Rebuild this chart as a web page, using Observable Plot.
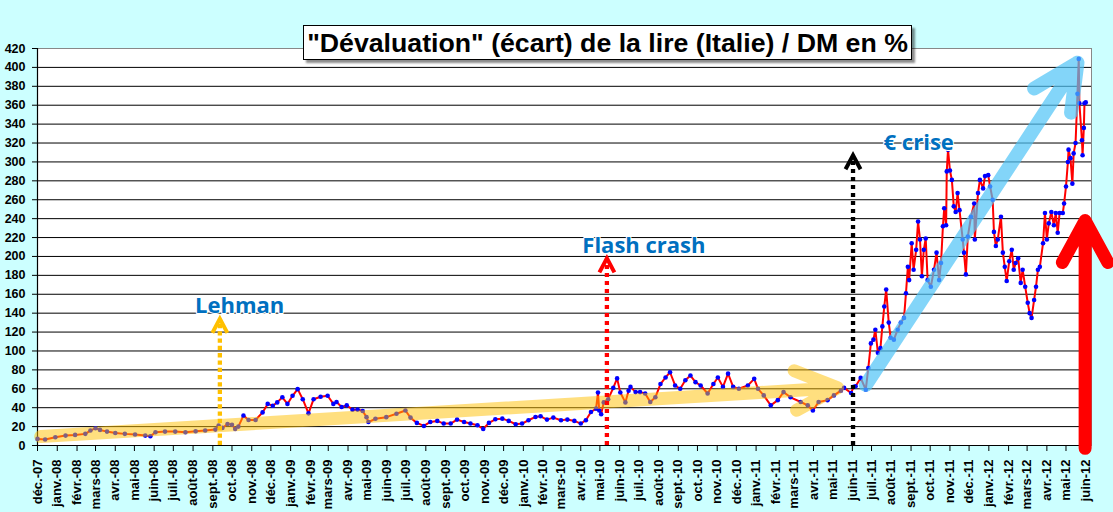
<!DOCTYPE html>
<html>
<head>
<meta charset="utf-8">
<script src="https://cdn.jsdelivr.net/npm/d3@7"></script>
<script src="https://cdn.jsdelivr.net/npm/@observablehq/plot@0.6"></script>
<style>
html, body { margin: 0; padding: 0; background: #ccffff; }
#wrap { position: relative; width: 1113px; height: 512px; overflow: hidden; background: #ccffff; }
#title {
  position: absolute; left: 303px; top: 25px; width: 607px; height: 33px;
  background: #fff; border: 1px solid #000;
  box-shadow: 3px 3px 2px rgba(0,0,0,0.45);
  font: bold 26.7px "Liberation Sans", Arial, sans-serif; line-height: 34px;
  text-align: center; white-space: nowrap; color: #000; z-index: 2;
}
#chart { position: absolute; left: 0; top: 0; }
</style>
</head>
<body>
<div id="wrap">
  <div id="chart"></div>
  <div id="title">"Dévaluation" (écart) de la lire (Italie) / DM en %</div>
</div>
<script>
// ---- Data, per year: day "MM-DD" and value in % ----
const days2007 = ["12-01","12-13","12-29"];
const vals2007 = [7,6.3,8.8];

const days2008 = ["01-14","01-29","02-14","02-22","03-01","03-08","03-19","04-01","04-16","05-02",
                  "05-18","05-26","06-03","06-18","07-04","07-20","08-05","08-20","09-05","09-10",
                  "09-16","09-24","10-01","10-06","10-11","10-19","10-27","11-07","11-18","11-26",
                  "12-04","12-11","12-19","12-27"];
const vals2008 = [10.5,11.2,12.3,15.8,18.3,16.5,14.7,13.3,12.3,11.6,
                  10.5,9.8,14,14.7,14.7,14,15,15.8,16.8,21,
                  18.6,22.8,22,17.5,20,31.6,27,27,35,44,
                  42,45.6,51,44];

const days2009 = ["01-04","01-12","01-20","01-29","02-06","02-17","02-28","03-09","03-14","03-22",
                  "03-30","04-08","04-16","04-24","04-30","05-03","05-14","05-31","06-16","06-30",
                  "07-08","07-18","07-29","08-08","08-19","08-29","09-09","09-19","09-30","10-10",
                  "10-21","10-30","11-08","11-18","11-29","12-09","12-20","12-30"];
const vals2009 = [52.6,59.6,49,34,49,51.6,52.6,44,46,40.7,
                  42.5,37.9,38,36.5,30,24.8,28.3,30,33.6,37,
                  29.5,23.9,20.7,24.9,26,23.2,23.2,27.4,24.9,23.2,
                  21.4,17.5,23.9,27.7,28.4,26,22.5,23.2];

const days2010 = ["01-09","01-20","01-28","02-07","02-17","03-01","03-11","03-22","04-01","04-09",
                  "04-17","04-25","04-28","04-30","05-03","05-07","05-14","05-22","05-28","06-02",
                  "06-10","06-15","06-18","06-26","07-03","07-11","07-19","07-27","08-04","08-12",
                  "08-19","08-27","09-04","09-12","09-20","09-28","10-06","10-17","10-26","11-02",
                  "11-10","11-18","11-26","12-05","12-19","12-29"];
const vals2010 = [26.7,30.2,30.9,27.4,29.5,26.7,27.4,26,23.2,26.7,
                  35.4,39,56,37,33,45.6,49,61,71,56,
                  45.6,58,62,56.5,56.5,55,46,51,65,72,
                  77.5,63.5,60,69,74,67,63.5,55,65,72,
                  62,76,62,60,63.5,70.5];

const days2011 = ["01-04","01-13","01-24","02-04","02-13","02-24","03-12","03-23","03-31","04-09",
                  "04-23","05-03","05-14","05-19","05-30","06-03","06-06","06-14","06-22","06-26",
                  "06-30","07-04","07-07","07-11","07-15","07-18","07-21","07-24","07-28","07-31",
                  "08-05","08-11","08-16","08-21","08-24","08-27","08-29","09-02","09-05","09-09",
                  "09-12","09-15","09-18","09-21","09-24","09-27","10-02","10-07","10-11","10-15",
                  "10-18","10-21","10-23","10-26","10-27","10-29","11-01","11-04","11-07","11-10",
                  "11-13","11-16","11-21","11-23","11-26","11-29","12-04","12-09","12-10","12-15",
                  "12-18","12-23","12-26","12-31"];
const vals2011 = [60,53,42.5,48,56.5,51,46,42.5,37,46,
                  48,53,58,61,55.6,62,62.7,71.5,59,82,
                  108,112,122.5,98,103,126,147,165,130,114,
                  112,122.5,130,135,161,189,175,214,186,207,
                  237,218,179,207,219,175,168,186,204,175,
                  193,232,251,233,290,313,291,281,253,247,
                  267,249,218,204,181,221,242,256,218,267,
                  281,272,285,286];

const days2012 = ["01-03","01-07","01-09","01-12","01-15","01-20","01-23","01-26","01-29","02-02",
                  "02-06","02-09","02-12","02-16","02-20","02-23","02-27","03-02","03-05","03-08",
                  "03-12","03-15","03-18","03-21","03-26","03-29","04-01","04-04","04-08","04-12",
                  "04-15","04-18","04-21","04-26","04-28","05-01","05-04","05-05","05-08","05-11",
                  "05-13","05-16","05-19","05-21","05-22","05-26","05-27","05-29","05-30","06-01"];
const vals2012 = [274,260,226,211,218,242,204,189,174,195,
                  207,186,193,198,172,186,168,151,140,135,
                  154,168,186,189,214,246,218,235,247,233,
                  246,225,246,246,256,274,300,313,304,277,
                  309,320,372,409,362,323,307,336,362,363];

// Axis
const xDomain = ["2007-12-01", "2012-06-10"];
const yTicks = d3.range(0, 421, 20);
const monthNames = ["janv.","févr.","mars","avr.","mai","juin","juil.","août","sept.","oct.","nov.","déc."];
const firstMonth = "2007-12-01", lastMonth = "2012-06-01";

// Annotations (events with dotted arrows)
const eventDates = ["2008-09-12", "2010-05-12", "2011-06-02"];
const eventTops = [134, 198, 307];
const labelTexts = ["Lehman", "Flash crash", "€ crise"];
const labelDates = ["2008-10-13", "2010-07-09", "2011-09-13"];
const labelValues = [148, 211.6, 320];

// Trend arrows: [start date, start value, end date, end value]
const trendOrange = ["2007-12-06", 9.5, "2011-05-09", 61];
const trendBlue = ["2011-06-22", 64, "2012-05-19", 405];
const trendRed = ["2012-05-31", -3, "2012-05-31", 238];

// ---- Build ----
const years = [[2007, days2007, vals2007], [2008, days2008, vals2008], [2009, days2009, vals2009],
               [2010, days2010, vals2010], [2011, days2011, vals2011], [2012, days2012, vals2012]];
const data = years.flatMap(([y, ds, vs]) => ds.map((d, i) => ({date: new Date(`${y}-${d}`), value: vs[i]})));
const monthTicks = d3.utcMonth.range(new Date(firstMonth), d3.utcDay.offset(new Date(lastMonth), 1));
const fmtMonth = d => `${monthNames[d.getUTCMonth()]}-${String(d.getUTCFullYear()).slice(2)}`;
const events = eventDates.map((d, i) => ({date: new Date(d), bottom: 0, top: eventTops[i]}));
const labels = labelTexts.map((t, i) => ({text: t, date: new Date(labelDates[i]), value: labelValues[i]}));
const arrowRow = a => [{x1: new Date(a[0]), y1: a[1], x2: new Date(a[2]), y2: a[3]}];

const chevron = {
  draw(context) {
    context.moveTo(-7.5, 14);
    context.lineTo(0, 0);
    context.lineTo(7.5, 14);
  }
};

const dotted = (i, color, dash) => Plot.ruleX([events[i]], {
  x: "date", y1: "bottom", y2: d => d.top - 2,
  stroke: color, strokeWidth: 4.3, strokeDasharray: dash
});
const head = (i, color) => Plot.dot([events[i]], {
  x: "date", y: "top", symbol: chevron, r: 5, fill: "none",
  stroke: color, strokeWidth: 4, strokeLinejoin: "miter", strokeLinecap: "butt"
});

const chart = Plot.plot({
  width: 1113,
  height: 512,
  marginLeft: 37,
  marginRight: 22,
  marginTop: 48,
  marginBottom: 67,
  style: {background: "transparent", fontFamily: "'Liberation Sans', Arial, sans-serif", color: "#000", overflow: "visible"},
  x: {type: "utc", domain: xDomain.map(d => new Date(d))},
  y: {domain: [0, 420]},
  marks: [
    Plot.frame({fill: "white"}),
    Plot.ruleY(yTicks.filter(v => v > 0 && v < 420), {stroke: "#000", strokeWidth: 1}),
    Plot.frame({stroke: "#888", strokeWidth: 1}),
    Plot.ruleY([0], {stroke: "#000", strokeWidth: 1.2}),
    Plot.ruleX([new Date(xDomain[0])], {stroke: "#000", strokeWidth: 1.2}),
    Plot.axisY({ticks: yTicks, tickSize: 5, tickPadding: 7, fontSize: 12.5, fontWeight: "bold", label: null, fill: "#000"}),
    Plot.axisX({ticks: monthTicks, tickFormat: fmtMonth, tickRotate: -90, tickSize: 6, tickPadding: 8, fontSize: 13, fontWeight: "bold", label: null, fill: "#000"}),
    Plot.line(data, {x: "date", y: "value", stroke: "#ff0000", strokeWidth: 2}),
    Plot.dot(data, {x: "date", y: "value", r: 2.3, fill: "#0000ff", stroke: "none"}),
    Plot.arrow(arrowRow(trendOrange), {x1: "x1", y1: "y1", x2: "x2", y2: "y2", stroke: "#ffc000", strokeOpacity: 0.5, strokeWidth: 13, headAngle: 50, headLength: 5.4}),
    Plot.arrow(arrowRow(trendBlue), {x1: "x1", y1: "y1", x2: "x2", y2: "y2", stroke: "#4fc3f7", strokeOpacity: 0.7, strokeWidth: 14, headAngle: 52, headLength: 5.4}),
    Plot.arrow(arrowRow(trendRed), {x1: "x1", y1: "y1", x2: "x2", y2: "y2", stroke: "#ff0000", strokeWidth: 13, headAngle: 57, headLength: 5.5}),
    dotted(0, "#ffc000", "4.3,3"),
    dotted(1, "#ff0000", "4,4"),
    dotted(2, "#000000", "4,4"),
    head(0, "#ffc000"),
    head(1, "#ff0000"),
    head(2, "#000000"),
    Plot.text(labels, {x: "date", y: "value", text: "text", fontFamily: "'Open Sans', sans-serif", fontWeight: "bold", fontSize: 22, fill: "#0070c0", stroke: "white", strokeWidth: 2, paintOrder: "stroke"})
  ]
});
document.getElementById("chart").appendChild(chart);
</script>
</body>
</html>
